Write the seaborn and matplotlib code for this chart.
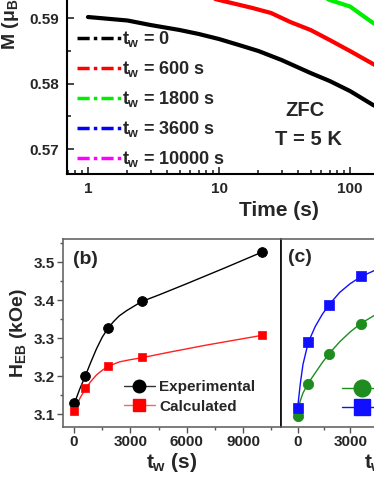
import matplotlib
matplotlib.use("Agg")
import matplotlib.pyplot as plt
import seaborn as sns
import numpy as np
import pandas as pd
from matplotlib.lines import Line2D
from matplotlib.ticker import LogLocator, NullFormatter, FixedLocator

# ---------------- data ----------------
# (a) relaxation curves M(t)
t_tw0 = [1, 2, 3, 5, 7, 10, 15, 20, 30, 50, 70, 100, 150, 200, 300, 500, 1000]
m_tw0 = [0.59015, 0.58962, 0.58893, 0.58817, 0.58756, 0.58679, 0.58573, 0.58496,
         0.58359, 0.58160, 0.58038, 0.57885, 0.57672, 0.5755, 0.5735, 0.5710, 0.5678]
t_tw600 = [1, 2, 5, 10, 18, 25, 35, 50, 70, 100, 150, 200, 300, 500, 1000]
m_tw600 = [0.5977, 0.5962, 0.5943, 0.59275, 0.59153, 0.59076, 0.58939, 0.58817,
           0.58664, 0.58496, 0.58298, 0.5815, 0.5795, 0.5770, 0.5735]
t_tw1800 = [1, 2, 5, 10, 20, 30, 50, 70, 100, 150, 200, 300, 500, 1000]
m_tw1800 = [0.6040, 0.6025, 0.6005, 0.5990, 0.5970, 0.5958, 0.5942, 0.59275,
            0.59176, 0.58924, 0.5880, 0.5860, 0.5835, 0.5800]
t_tw3600 = [1, 10, 100, 1000]
m_tw3600 = [0.6150, 0.6120, 0.6080, 0.6030]
t_tw10000 = [1, 10, 100, 1000]
m_tw10000 = [0.6250, 0.6220, 0.6180, 0.6130]

# (b) H_EB vs t_w
tw_b = [0, 600, 1800, 3600, 10000]
heb_exp = [3.130, 3.200, 3.327, 3.397, 3.527]
heb_calc = [3.108, 3.168, 3.226, 3.250, 3.308]
fit_t_exp = [0, 300, 600, 900, 1200, 1500, 1800, 2100, 2400, 2800, 3200, 3600, 4500, 6000, 8000, 10000]
fit_h_exp = [3.125, 3.165, 3.200, 3.237, 3.272, 3.302, 3.325, 3.343, 3.358, 3.372,
             3.384, 3.396, 3.413, 3.443, 3.484, 3.526]
fit_t_calc = [0, 300, 600, 900, 1200, 1500, 1800, 2400, 3000, 3600, 5000, 7000, 10000]
fit_h_calc = [3.105, 3.140, 3.166, 3.186, 3.203, 3.215, 3.225, 3.237, 3.243, 3.248,
              3.262, 3.281, 3.307]

# (c)
tw_c = [0, 600, 1800, 3600]
c_green = [3.095, 3.179, 3.259, 3.338]
c_blue = [3.117, 3.290, 3.388, 3.464]
fit_t_c = [0, 150, 300, 600, 1000, 1400, 1800, 2400, 3000, 3600, 4400, 5000]
fit_green = [3.110, 3.135, 3.155, 3.181, 3.208, 3.235, 3.259, 3.290, 3.316, 3.338, 3.360, 3.375]
fit_blue = [3.118, 3.180, 3.230, 3.288, 3.330, 3.362, 3.388, 3.420, 3.443, 3.461, 3.478, 3.490]

# ---------------- style ----------------
sns.set_style("ticks")
plt.rcParams['font.family'] = ['Liberation Sans', 'DejaVu Sans']
plt.rcParams['font.weight'] = 'bold'
plt.rcParams['axes.labelweight'] = 'bold'
plt.rcParams['mathtext.fontset'] = 'custom'
plt.rcParams['mathtext.rm'] = 'Liberation Sans:bold'
plt.rcParams['mathtext.it'] = 'Liberation Sans:bold'
plt.rcParams['mathtext.bf'] = 'Liberation Sans:bold'

W, H = 374, 484
fig = plt.figure(figsize=(W / 100, H / 100), dpi=100)

def rect(l, r, t, b):
    return [l / W, 1 - b / H, (r - l) / W, (b - t) / H]

def fx(p):
    return p / W

def fy(p):
    return 1 - p / H

# ---------------- panel (a) ----------------
ax1 = fig.add_axes(rect(67, 491, -60, 174))
cols_a = ['black', '#FF0000', '#00EE00', '#0000FF', '#FF00FF']
labs_a = ['$t_w$ = 0', '$t_w$ = 600 s', '$t_w$ = 1800 s', '$t_w$ = 3600 s', '$t_w$ = 10000 s']
series_a = [(t_tw0, m_tw0), (t_tw600, m_tw600), (t_tw1800, m_tw1800),
            (t_tw3600, m_tw3600), (t_tw10000, m_tw10000)]
for (tt, mm), c in zip(series_a, cols_a):
    sns.lineplot(x=tt, y=mm, ax=ax1, color=c, lw=3.0, legend=False)
ax1.set_xscale('log')
ax1.set_xlim(10 ** ((67 - 88) / 131), 10 ** ((491 - 88) / 131))
ax1.set_ylim(0.59 - (174 - 18) / 6550, 0.59 + (60 + 18) / 6550)
ax1.yaxis.set_major_locator(FixedLocator([0.57, 0.58, 0.59]))
ax1.yaxis.set_minor_locator(FixedLocator([0.565, 0.575, 0.585, 0.595]))
ax1.set_yticklabels(['0.57', '0.58', '0.59'])
ax1.xaxis.set_major_locator(FixedLocator([1, 10, 100]))
ax1.set_xticklabels(['1', '10', '100'])
ax1.xaxis.set_minor_locator(LogLocator(base=10, subs=np.arange(2, 10), numticks=20))
ax1.xaxis.set_minor_formatter(NullFormatter())
ax1.tick_params(which='both', direction='in', width=1.2, labelsize=11, top=False, right=False)
ax1.tick_params(which='major', length=5, pad=6)
ax1.tick_params(which='minor', length=3)
for s in ax1.spines.values():
    s.set_linewidth(1.5)
    s.set_color('black')
ax1.set_xlabel('Time (s)', fontsize=15, labelpad=3)
ax1.set_ylabel('')
fig.text(fx(11), fy(50), 'M (μ$_B$/f.u.)', rotation=90, ha='center', va='bottom',
         fontsize=14, fontweight='bold')

handles_a = [Line2D([], [], color=c, lw=2.5, ls=(0, (3.5, 1.2, 1.0, 1.2))) for c in cols_a]
ax1.legend(handles_a, labs_a, loc='upper left', bbox_to_anchor=(fx(70), fy(22)),
           bbox_transform=fig.transFigure, frameon=False, fontsize=13,
           handlelength=2.4, handletextpad=0.1, labelspacing=0.55, borderaxespad=0)
fig.text(fx(305), fy(110), 'ZFC', ha='center', va='center', fontsize=14.5, fontweight='bold')
fig.text(fx(308), fy(140), 'T = 5 K', ha='center', va='center', fontsize=14.5, fontweight='bold')

# ---------------- panel (b) ----------------
ax2 = fig.add_axes(rect(63, 281, 239, 427))
sns.lineplot(x=fit_t_exp, y=fit_h_exp, ax=ax2, color='black', lw=1.0, legend=False)
sns.lineplot(x=fit_t_calc, y=fit_h_calc, ax=ax2, color='#FF2020', lw=1.0, legend=False)
sns.scatterplot(x=tw_b, y=heb_exp, ax=ax2, color='black', marker='o', s=50,
                edgecolor='black', zorder=5, legend=False)
sns.scatterplot(x=tw_b, y=heb_calc, ax=ax2, color='#FF0000', marker='s', s=38,
                edgecolor='#FF0000', zorder=5, legend=False)
ylo, yhi = 3.1 - (427 - 414) / 380, 3.1 + (414 - 239) / 380
ax2.set_xlim(-585, 11010)
ax2.set_ylim(ylo, yhi)
ax2.xaxis.set_major_locator(FixedLocator([0, 3000, 6000, 9000]))
ax2.xaxis.set_minor_locator(FixedLocator([1500, 4500, 7500, 10500]))
ax2.set_xticklabels(['0', '3000', '6000', '9000'])
ax2.yaxis.set_major_locator(FixedLocator([3.1, 3.2, 3.3, 3.4, 3.5]))
ax2.yaxis.set_minor_locator(FixedLocator([3.15, 3.25, 3.35, 3.45, 3.55]))
ax2.set_yticklabels(['3.1', '3.2', '3.3', '3.4', '3.5'])
ax2.tick_params(which='both', direction='out', width=1.0, labelsize=11, color='#555555')
ax2.tick_params(which='major', length=4, pad=2)
ax2.tick_params(which='minor', length=2.5)
for s in ax2.spines.values():
    s.set_linewidth(1.2)
    s.set_color('#666666')
ax2.set_xlabel('$t_w$ (s)', fontsize=15, labelpad=1)
ax2.set_ylabel('H$_{EB}$ (kOe)', fontsize=14, labelpad=3)
handles_b = [Line2D([], [], color='#333333', lw=1.0, marker='o', markersize=9,
                    markerfacecolor='black', markeredgecolor='black'),
             Line2D([], [], color='#FF6060', lw=1.0, marker='s', markersize=9,
                    markerfacecolor='#FF0000', markeredgecolor='#FF0000')]
ax2.legend(handles_b, ['Experimental', 'Calculated'], loc='center left',
           bbox_to_anchor=(fx(124), fy(397)), bbox_transform=fig.transFigure,
           frameon=False, fontsize=11, handlelength=2.0, handletextpad=0.3,
           labelspacing=0.35, borderaxespad=0, borderpad=0)
fig.text(fx(85), fy(259), '(b)', ha='center', va='center', fontsize=14, fontweight='bold')

# ---------------- panel (c) ----------------
ax3 = fig.add_axes(rect(281, 499, 239, 427))
green_c = '#1E8C1E'
blue_c = '#1010FF'
sns.lineplot(x=fit_t_c, y=fit_green, ax=ax3, color=green_c, lw=1.0, legend=False)
sns.lineplot(x=fit_t_c, y=fit_blue, ax=ax3, color=blue_c, lw=1.0, legend=False)
sns.scatterplot(x=tw_c, y=c_green, ax=ax3, color=green_c, marker='o', s=55,
                edgecolor=green_c, zorder=5, legend=False)
sns.scatterplot(x=tw_c, y=c_blue, ax=ax3, color=blue_c, marker='s', s=42,
                edgecolor=blue_c, zorder=5, legend=False)
ax3.set_xlim(-954, 11503)
ax3.set_ylim(ylo, yhi)
ax3.xaxis.set_major_locator(FixedLocator([0, 3000]))
ax3.xaxis.set_minor_locator(FixedLocator([1500, 4500]))
ax3.set_xticklabels(['0', '3000'])
ax3.set_yticks([])
ax3.tick_params(which='both', direction='out', width=1.0, labelsize=11, color='#555555')
ax3.tick_params(which='major', length=4, pad=2)
ax3.tick_params(which='minor', length=2.5)
for s in ax3.spines.values():
    s.set_linewidth(1.2)
    s.set_color('#666666')
ax3.spines['left'].set_color('black')
ax3.set_xlabel('$t_w$ (s)', fontsize=15, labelpad=1)
handles_c = [Line2D([], [], color=green_c, lw=1.0, marker='o', markersize=12,
                    markerfacecolor=green_c, markeredgecolor=green_c),
             Line2D([], [], color=blue_c, lw=1.0, marker='s', markersize=12,
                    markerfacecolor=blue_c, markeredgecolor=blue_c)]
ax3.legend(handles_c, ['ZFC', 'FC'], loc='center left',
           bbox_to_anchor=(fx(342), fy(399)), bbox_transform=fig.transFigure,
           frameon=False, fontsize=11, handlelength=2.6, handletextpad=0.3,
           labelspacing=0.3, borderaxespad=0, borderpad=0)
fig.text(fx(300), fy(258), '(c)', ha='center', va='center', fontsize=14, fontweight='bold')

fig.savefig('out.png', dpi=100)
